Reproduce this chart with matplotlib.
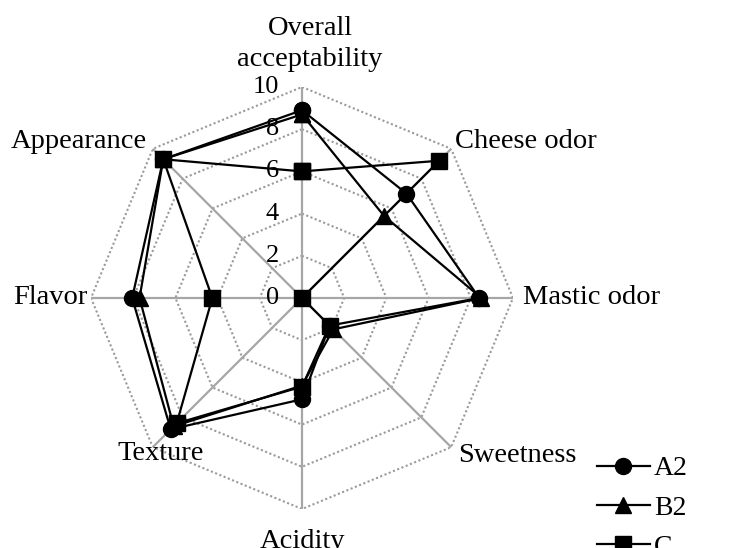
import numpy as np
import matplotlib.pyplot as plt
from matplotlib.lines import Line2D

plt.rcParams["font.family"] = ["Liberation Serif", "DejaVu Serif"]

# categories clockwise from the top
categories = ["Overall\nacceptability", "Cheese odor", "Mastic odor", "Sweetness",
              "Acidity", "Texture", "Flavor", "Appearance"]
series_names = ["A2", "B2", "C"]
a2 = [8.9, 7.0, 8.4, 1.85, 4.8, 8.8, 8.05, 9.3]
b2 = [8.7, 5.5, 8.5, 2.1, 4.15, 8.6, 7.7, 9.3]
c = [6.0, 9.2, 0.0, 1.85, 4.2, 8.4, 4.25, 9.3]
ring_values = [2, 4, 6, 8, 10]
tick_labels = ["0", "2", "4", "6", "8", "10"]

W, H = 740, 548
fig = plt.figure(figsize=(W / 100, H / 100), dpi=100)
cx, cy, rad = 302, 298, 211
ax = fig.add_axes([(cx - rad) / W, (H - cy - rad) / H, 2 * rad / W, 2 * rad / H],
                  projection="polar")
ax.set_theta_offset(np.pi / 2)
ax.set_theta_direction(-1)
ax.set_ylim(0, 10)
ax.grid(False)
ax.set_xticks([])
ax.set_yticks([])
ax.spines["polar"].set_visible(False)
ax.patch.set_visible(False)

n = len(categories)
theta = np.linspace(0, 2 * np.pi, n, endpoint=False)
closed = np.append(theta, theta[0])

# octagon rings and spokes
for rv in ring_values:
    ax.plot(closed, [rv] * (n + 1), color="#9a9a9a", lw=1.5, ls=(0, (1, 1.2)), zorder=1)
for t in theta:
    ax.plot([t, t], [0, 10], color="#a6a6a6", lw=1.6, zorder=1)

markers = ["o", "^", "s"]
for name, vals, mk in zip(series_names, [a2, b2, c], markers):
    ax.plot(closed, vals + vals[:1], color="black", lw=1.6, marker=mk,
            markersize=11.5 if mk != "^" else 12, markeredgecolor="black",
            markerfacecolor="black", zorder=3, clip_on=False, label=name)

# radial tick labels
for i, lab in enumerate(tick_labels):
    ax.annotate(lab, xy=(0, i * 2), xytext=(-23, 0), textcoords="offset pixels",
                ha="right", va="center", fontsize=19, zorder=2)

# category labels: (ha, va, dx, dy) in pixels from the r=10 vertex
label_pos = [
    ("center", "bottom", 8, 15),
    ("left", "center", 4, 7),
    ("left", "center", 10, 0),
    ("left", "center", 7, -8),
    ("center", "top", 0, -20),
    ("right", "center", 51, -6),
    ("right", "center", -3, 0),
    ("right", "center", -6, 7),
]
for t, lab, (ha, va, dx, dy) in zip(theta, categories, label_pos):
    ax.annotate(lab, xy=(t, 10), xytext=(dx, dy), textcoords="offset pixels",
                ha=ha, va=va, fontsize=20.5, multialignment="center",
                linespacing=1.3, annotation_clip=False)

handles = [Line2D([], [], color="black", lw=1.6, marker=mk, markersize=11.5,
                  markerfacecolor="black") for mk in markers]
fig.legend(handles, series_names, loc="upper left", bbox_to_anchor=(597 / W, 1 - 456 / H),
           frameon=False, fontsize=20, handlelength=1.9, handletextpad=0.15,
           labelspacing=0.5, borderpad=0, borderaxespad=0)

fig.savefig("out.png", dpi=100)
